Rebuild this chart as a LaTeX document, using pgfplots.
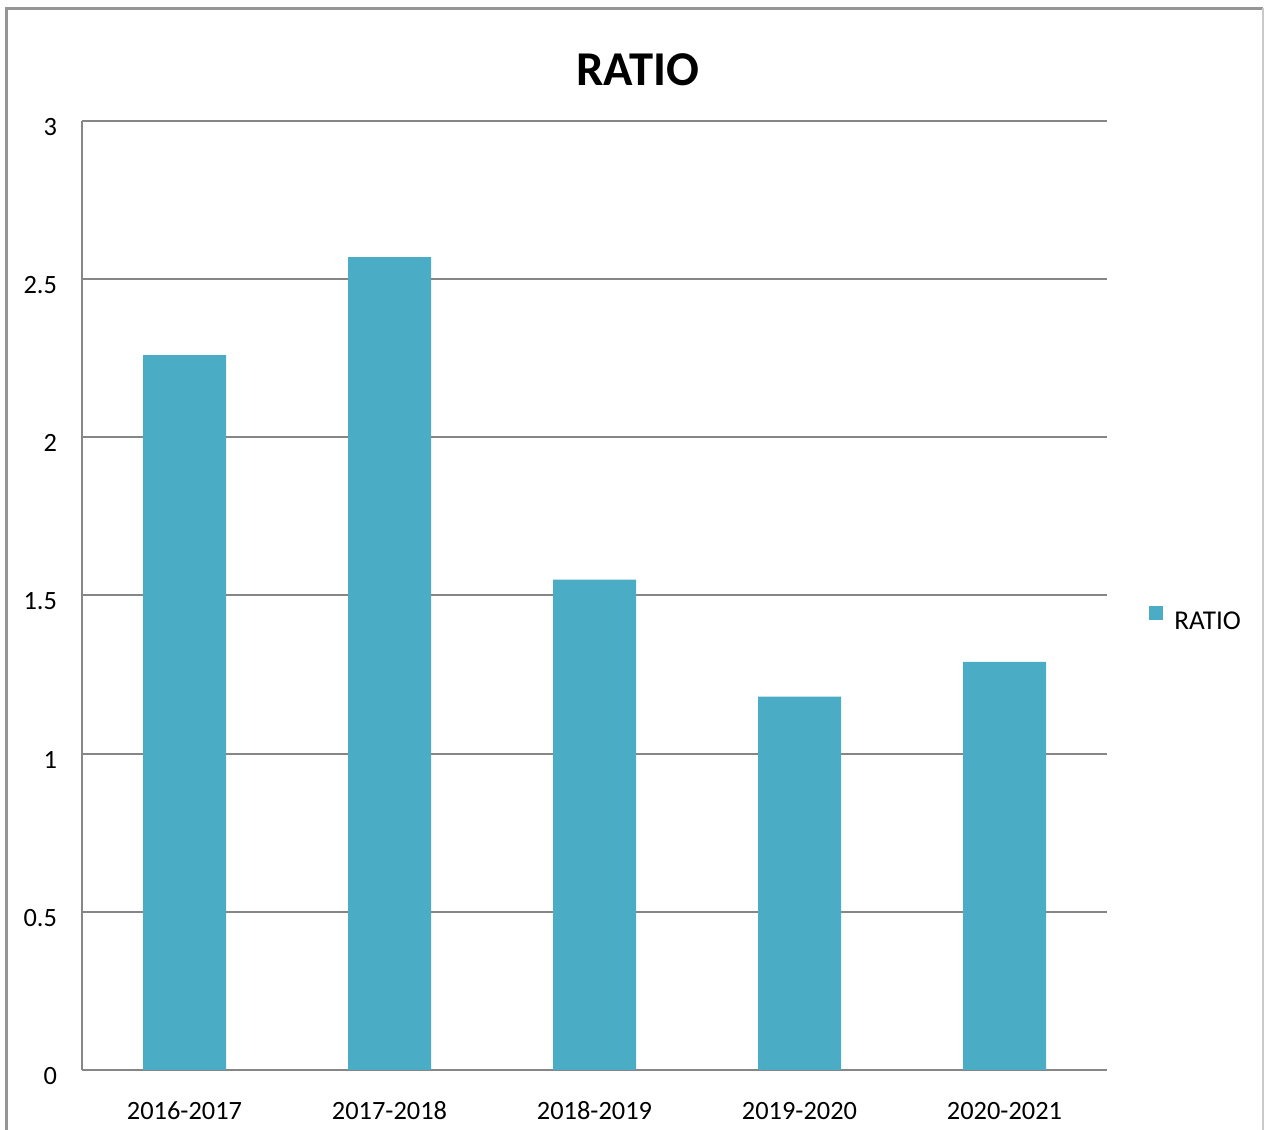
\documentclass[border=0pt]{standalone}
\usepackage{pgfplots}
\pgfplotsset{compat=1.18}
\usepackage{fontspec}
\setmainfont{Carlito}
\definecolor{bargreen}{RGB}{75,172,198}
\definecolor{gridgray}{RGB}{134,134,134}
\definecolor{framegray}{RGB}{150,150,150}

\pgfplotstableread{
idx value
0 2.26
1 2.57
2 1.55
3 1.18
4 1.29
}\ratiodata

\begin{document}
\begin{tikzpicture}[x=0.5pt,y=0.5pt]
% page size: 1264 x 1130 units
\useasboundingbox (0,0) rectangle (1264,1130);
% outer chart frame
\draw[framegray,line width=1.2pt] (6.5,-20) -- (6.5,1121.5) -- (1263,1121.5);
\draw[framegray!50,line width=1.2pt] (1263,1121.5) -- (1263,-20);
% title
\node[font=\bfseries\fontsize{24.3}{29}\selectfont] at (638,1060) {RATIO};
\begin{axis}[
  at={(41pt,30pt)}, anchor=south west,
  scale only axis, width=512.5pt, height=474.5pt,
  xmin=-0.5, xmax=4.5, ymin=0, ymax=3,
  ybar, bar width=41.5pt,
  xtick=data,
  xticklabels={2016-2017,2017-2018,2018-2019,2019-2020,2020-2021},
  ytick={0,0.5,1,1.5,2,2.5,3},
  yticklabels={0,0.5,1,1.5,2,2.5,3},
  major tick length=0pt,
  axis x line*=bottom, axis y line*=left,
  axis line style={gridgray,line width=1pt},
  ymajorgrids, grid style={gridgray,line width=1pt},
  ticklabel style={font=\fontsize{13.2}{15}\selectfont},
  yticklabel style={anchor=east,xshift=-9pt,yshift=-3pt},
  xticklabel style={anchor=center,yshift=-20.5pt},
  clip=false,
]
\addplot[fill=bargreen, draw=none] table[x=idx,y=value]{\ratiodata};
\end{axis}
% legend
\fill[bargreen] (1149,510) rectangle (1163,524);
\node[anchor=west,font=\fontsize{13.6}{16}\selectfont,inner sep=0pt] at (1174,509) {RATIO};
\end{tikzpicture}
\end{document}
